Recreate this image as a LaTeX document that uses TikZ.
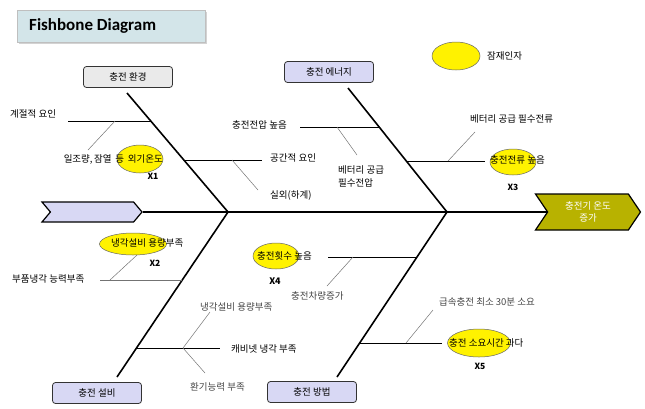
\documentclass[tikz,border=0pt]{standalone}
\usepackage{fontspec}
\setmainfont{Noto Sans CJK KR}
\newfontfamily\titlefont{Carlito}
\usetikzlibrary{shadows,shapes.symbols,shapes.geometric}
\definecolor{lav}{HTML}{D8D8F4}
\definecolor{boxgray}{HTML}{EAEAEA}
\definecolor{olivehead}{HTML}{B8B200}
\definecolor{titlefill}{HTML}{D3E5E9}
\definecolor{txtgray}{HTML}{444444}
\begin{document}
\begin{tikzpicture}[x=1pt,y=-1pt,
  font=\fontsize{9.5}{11}\selectfont,
  catbox/.style={draw=black!80,line width=0.8pt,rounded corners=3pt,minimum width=89pt,minimum height=21pt,inner sep=0pt},
  bone/.style={line width=1.6pt,black},
  spine/.style={line width=1.6pt,black},
  subline/.style={line width=0.7pt,black},
  subgray/.style={line width=0.6pt,black!55},
  diag/.style={line width=0.5pt,black!55},
  factor/.style={ellipse,draw=black!60,line width=0.5pt,fill=yellow,inner sep=0pt},
  lbl/.style={anchor=west,inner sep=0pt},
  xlbl/.style={inner sep=0pt,font=\fontsize{8.5}{10}\selectfont\bfseries}
]
\useasboundingbox (0,0) rectangle (645,408);

% title
\node[draw=black!25,fill=titlefill,drop shadow={opacity=0.35,shadow xshift=1.5pt,shadow yshift=-1.5pt},
      minimum width=188pt,minimum height=32pt,anchor=north west,inner sep=0pt] (title) at (17,10) {};
\node[anchor=west,inner sep=0pt,font=\titlefont\bfseries\fontsize{17}{20}\selectfont] (titletext) at (29,26) {Fishbone Diagram};

% tail and head
\node[signal,signal from=west,signal to=east,signal pointer angle=100,draw=black,line width=1.2pt,fill=lav,
      minimum width=100pt,minimum height=20pt,inner sep=0pt] (tail) at (92,212) {};
\node[signal,signal from=west,signal to=east,signal pointer angle=112,draw=black,line width=1.2pt,fill=olivehead,
      minimum width=105pt,minimum height=36pt,inner sep=0pt,text=white,align=center,
      font=\fontsize{9.5}{11.5}\selectfont] (head) at (588,212) {충전기 온도\\증가};

\draw[spine] (tail.east) -- (head.west);

% category boxes
\node[catbox,fill=boxgray] (env) at (128,77) {충전 환경};
\node[catbox,fill=lav] (energy) at (329,72) {충전 에너지};
\node[catbox,fill=lav] (equip) at (97,393) {충전 설비};
\node[catbox,fill=lav] (method) at (312,392) {충전 방법};

% bone coordinates
\coordinate (J1) at (228,212);
\coordinate (J2) at (447,212);
\coordinate (B1) at (127,93);
\coordinate (B2) at (348,88);
\coordinate (B3) at (117,377);
\coordinate (B4) at (337,377);
\draw[bone] (B1) -- (J1);
\draw[bone] (B2) -- (J2);
\draw[bone] (B3) -- (J1);
\draw[bone] (B4) -- (J2);

% legend
\node[factor,minimum width=48pt,minimum height=28pt] (legE) at (456,56) {};
\node[lbl] (legT) at (487,56) {잠재인자};

% ---- upper left bone
\coordinate (h1a) at (68,121); \coordinate (h1b) at (151,121);
\coordinate (d1a) at (115,121); \coordinate (d1b) at (88,150);
\draw[subline] (h1a) -- (h1b);
\draw[diag] (d1a) -- (d1b);
\node[lbl] (t1) at (10,114) {계절적 요인};
\node[factor,minimum width=46pt,minimum height=28pt] (e1) at (140,159) {};
\node[anchor=east,inner sep=0pt] (t2) at (163,159) {일조량,\,잠열 \,등 \,외기온도};
\node[xlbl] (x1) at (153,176) {X1};

\coordinate (h2a) at (184,160); \coordinate (h2b) at (262,160);
\coordinate (d2a) at (232,160); \coordinate (d2b) at (258,190);
\draw[subline] (h2a) -- (h2b);
\draw[diag] (d2a) -- (d2b);
\node[lbl] (t3) at (270,158) {공간적 요인};
\node[lbl] (t4) at (270,195) {실외(하계)};

% ---- upper right bone
\coordinate (h3a) at (300,127); \coordinate (h3b) at (379,127);
\coordinate (d3a) at (337,127); \coordinate (d3b) at (357,155);
\draw[subline] (h3a) -- (h3b);
\draw[diag] (d3a) -- (d3b);
\node[anchor=east,inner sep=0pt] (t5) at (287,125) {충전전압 높음};
\node[anchor=north west,inner sep=0pt,align=left,font=\fontsize{9.5}{13.5}\selectfont] (t6) at (338,165) {베터리 공급\\필수전압};

\coordinate (h4a) at (406,161); \coordinate (h4b) at (485,161);
\coordinate (d4a) at (448,161); \coordinate (d4b) at (475,132);
\draw[subline] (h4a) -- (h4b);
\draw[diag] (d4a) -- (d4b);
\node[lbl] (t7) at (470,119) {베터리 공급 필수전류};
\node[factor,minimum width=46pt,minimum height=26pt] (e3) at (513,162) {};
\node[lbl] (t8) at (490,160) {충전전류 높음};
\node[xlbl] (x3) at (513,187) {X3};

% ---- lower left bone
\node[factor,minimum width=67pt,minimum height=22pt] (e2) at (133,244) {};
\node[lbl] (t11) at (111,243) {냉각설비 용량부족};
\node[xlbl] (x2) at (155,263) {X2};
\coordinate (h5a) at (100,280); \coordinate (h5b) at (182,280);
\coordinate (d5a) at (110,280); \coordinate (d5b) at (137,255);
\draw[subgray] (h5a) -- (h5b);
\draw[diag] (d5a) -- (d5b);
\node[lbl] (t12) at (12,279) {부품냉각 능력부족};

\coordinate (h6a) at (136,348); \coordinate (h6b) at (220,348);
\coordinate (d6a) at (183,348); \coordinate (d6b) at (210,312); \coordinate (d6c) at (205,373);
\draw[subline] (h6a) -- (h6b);
\draw[diag] (d6a) -- (d6b);
\draw[diag] (d6a) -- (d6c);
\node[lbl,text=txtgray] (t13) at (200,307) {냉각설비 용량부족};
\node[lbl] (t14) at (231,349) {캐비넷 냉각 부족};
\node[lbl,text=txtgray] (t15) at (190,387) {환기능력 부족};

% ---- lower right bone
\node[factor,minimum width=46pt,minimum height=26pt] (e4) at (276,256) {};
\node[lbl] (t16) at (257,256) {충전횟수 높음};
\node[xlbl,font=\rmfamily\bfseries\fontsize{9}{10}\selectfont] (x4) at (275,281) {X4};
\coordinate (h7a) at (328,257); \coordinate (h7b) at (417,257);
\coordinate (d7a) at (353,257); \coordinate (d7b) at (327,286);
\draw[subline] (h7a) -- (h7b);
\draw[diag] (d7a) -- (d7b);
\node[lbl,text=txtgray] (t17) at (291,296) {충전차량증가};

\coordinate (h8a) at (360,343); \coordinate (h8b) at (442,343);
\coordinate (d8a) at (406,343); \coordinate (d8b) at (433,310);
\draw[subline] (h8a) -- (h8b);
\draw[diag] (d8a) -- (d8b);
\node[lbl,text=txtgray] (t18) at (439,302) {급속충전 최소 30분 소요};
\node[factor,minimum width=63pt,minimum height=28pt] (e5) at (479,343) {};
\node[lbl] (t19) at (449,343) {충전 소요시간 과다};
\node[xlbl] (x5) at (480,366) {X5};
\end{tikzpicture}
\end{document}
